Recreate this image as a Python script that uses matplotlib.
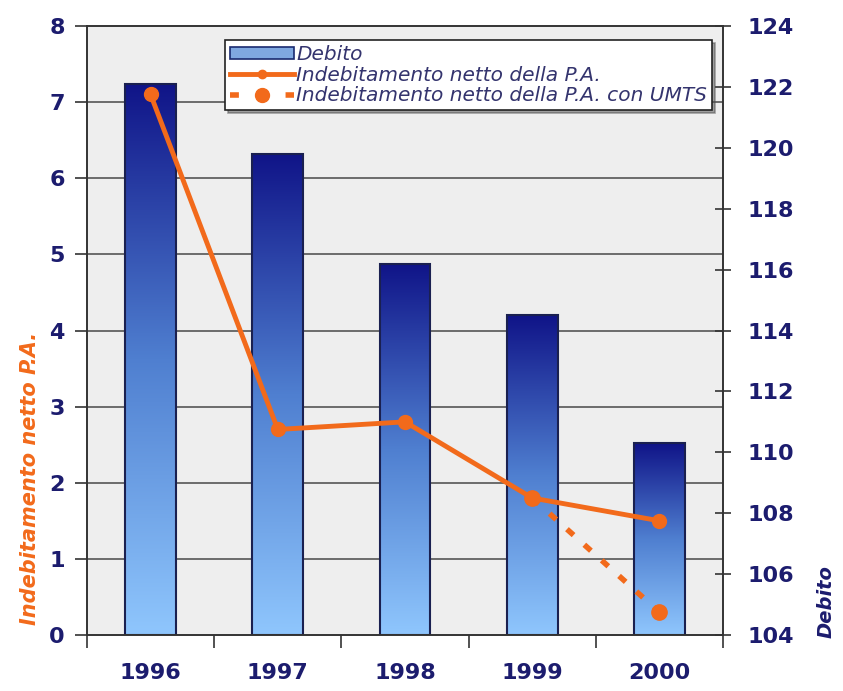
import numpy as np
import matplotlib
matplotlib.use("Agg")
import matplotlib.pyplot as plt
from matplotlib.colors import LinearSegmentedColormap
from matplotlib.patches import Patch
from matplotlib.lines import Line2D
from matplotlib.transforms import blended_transform_factory

# dati
anni = ["1996", "1997", "1998", "1999", "2000"]
debito = [122.1, 119.8, 116.2, 114.5, 110.3]
indebitamento = [7.1, 2.7, 2.8, 1.8, 1.5]
indebitamento_umts = [np.nan, np.nan, np.nan, 1.8, 0.3]

navy = "#1c1c6e"
arancio = "#f26a1b"
x = np.arange(len(anni))

fig = plt.figure(figsize=(8.43, 6.91), dpi=100)
ax = fig.add_axes([0.1032, 0.081, 0.7545, 0.8814])
ax2 = ax.twinx()

# assi: sinistra per le linee (sopra), destra per le barre (sotto)
ax.set_zorder(ax2.get_zorder() + 1)
ax.patch.set_visible(False)
ax2.patch.set_visible(True)
ax2.patch.set_facecolor("#eeeeee")

ax.set_xlim(-0.5, 4.5)
ax.set_ylim(0, 8)
ax2.set_ylim(104, 124)

# griglia orizzontale sotto le barre, sui valori dell'asse sinistro
tr = blended_transform_factory(ax2.transAxes, ax.transData)
for v in range(1, 8):
    ax2.plot([0, 1], [v, v], transform=tr, color="#555555", lw=1.2, zorder=0.5)

# barre con sfumatura
cmap = LinearSegmentedColormap.from_list("deb", ["#8fc6fd", "#4f7fd0", "#101488"])
grad = np.linspace(0, 1, 256).reshape(-1, 1)
bars = ax2.bar(x, [d - 104 for d in debito], width=0.4, bottom=104,
               facecolor="none", edgecolor="#1a2050", lw=1.5, zorder=2)
for b in bars:
    x0, y0 = b.get_x(), b.get_y()
    im = ax2.imshow(grad, cmap=cmap, origin="lower", aspect="auto",
                    extent=[x0, x0 + b.get_width(), y0, y0 + b.get_height()],
                    zorder=1.5)
    im.set_clip_path(b)
ax2.set_xlim(-0.5, 4.5)
ax2.set_ylim(104, 124)

# linee
ax.plot(x, indebitamento_umts, color=arancio, lw=4, ls=(0, (1.6, 2.6)),
        marker="o", ms=11, zorder=3)
ax.plot(x, indebitamento, color=arancio, lw=3.5, marker="o", ms=10, zorder=4)

# assi x
ax.set_xticks(np.arange(-0.5, 5, 1))
ax.set_xticklabels([])
ax.set_xticks(x, minor=True)
ax.set_xticklabels(anni, minor=True)
ax.tick_params(axis="x", which="major", direction="out", length=9, width=1.2, color="#333333")
ax.tick_params(axis="x", which="minor", length=0, pad=20, labelsize=16, labelcolor=navy)
for t in ax.get_xticklabels(minor=True):
    t.set_fontweight("bold")

ax.set_yticks(range(0, 9))
ax.tick_params(axis="y", direction="out", length=9, width=1.2, color="#333333",
               pad=7, labelsize=16, labelcolor=navy)
ax2.set_yticks(range(104, 125, 2))
ax2.tick_params(axis="y", direction="inout", length=11, width=1.2, color="#333333",
                pad=12, labelsize=16, labelcolor=navy)
for t in ax.get_yticklabels() + ax2.get_yticklabels():
    t.set_fontweight("bold")
ax2.tick_params(axis="x", bottom=False, labelbottom=False)

for a in (ax, ax2):
    for s in a.spines.values():
        s.set_color("#333333")
        s.set_linewidth(1.2)

fig.text(0.036, 0.307, "Indebitamento netto P.A.", rotation=90, color=arancio,
         fontsize=15, fontweight="bold", fontstyle="italic", ha="center", va="center")
fig.text(0.98, 0.13, "Debito", rotation=90, color=navy,
         fontsize=14, fontweight="bold", fontstyle="italic", ha="center", va="center")

# legenda
handles = [
    Patch(facecolor="#7fa8e0", edgecolor="#1a2a70", lw=1.2),
    Line2D([], [], color=arancio, lw=3.5, marker="o", ms=6),
    Line2D([], [], color=arancio, lw=4, ls=(0, (1.6, 3.4)), marker="o", ms=10),
]
labels = ["Debito", "Indebitamento netto della P.A.",
          "Indebitamento netto della P.A. con UMTS"]
leg = ax.legend(handles, labels, loc="upper right", bbox_to_anchor=(0.983, 0.977),
                fontsize=14.5, frameon=True, fancybox=False, shadow=True,
                handlelength=3.2, handleheight=0.6, handletextpad=0.1,
                labelspacing=0.08, borderpad=0.25, borderaxespad=0)
leg.get_frame().set_edgecolor("#222222")
leg.get_frame().set_linewidth(1.2)
for t in leg.get_texts():
    t.set_color("#34346e")
    t.set_fontstyle("italic")

fig.savefig("out.png", dpi=100)
